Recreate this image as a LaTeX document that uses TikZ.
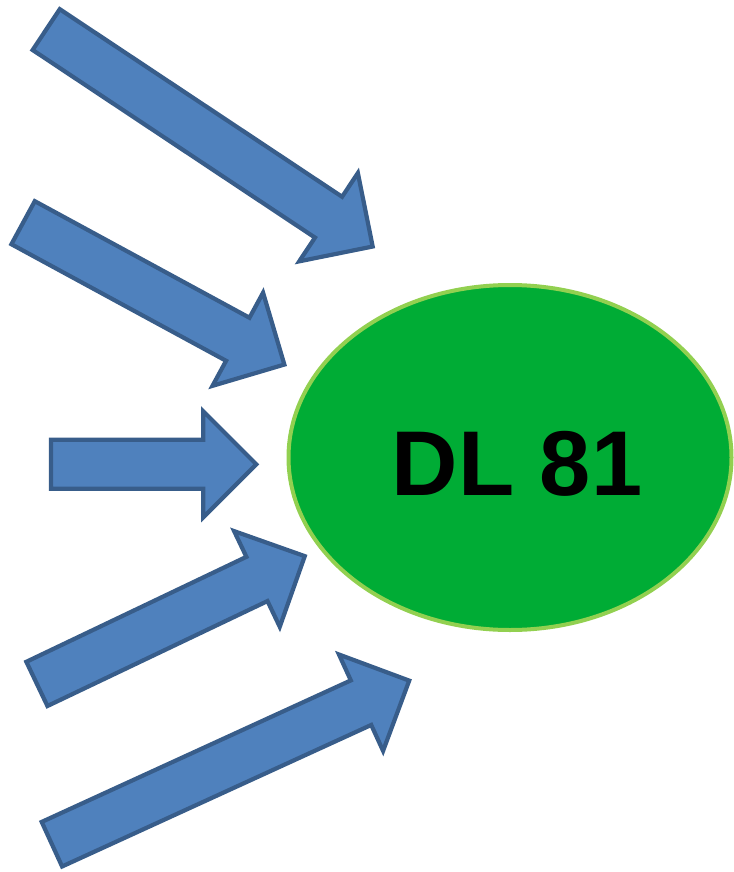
\documentclass[tikz,border=0pt]{standalone}
\usepackage{fontspec}
\setmainfont{Liberation Sans}
\definecolor{arrowfill}{HTML}{4F81BD}
\definecolor{arrowline}{HTML}{385D8A}
\definecolor{ellfill}{HTML}{00AC35}
\definecolor{ellline}{HTML}{92D050}
\tikzset{
  arrowshape/.style={fill=arrowfill, draw=arrowline, line width=4.2pt, line join=miter},
  ellshape/.style={fill=ellfill, draw=ellline, line width=4pt},
  bigtext/.style={font=\bfseries\fontsize{92}{106}\selectfont, anchor=base, inner sep=0pt, text=black},
  pics/blockarrow/.style={code={
    \draw[arrowshape] (0,24.5) -- (#1-53,24.5) -- (#1-53,53) -- (#1,0) -- (#1-53,-53) -- (#1-53,-24.5) -- (0,-24.5) -- cycle;
  }}
}
\begin{document}
\begin{tikzpicture}[x=1pt,y=-1pt]
\useasboundingbox (0,0) rectangle (733,872);
\draw[ellshape] (510,457.5) ellipse [x radius=221.5pt, y radius=172.5pt];
\node[bigtext] (dl) at (517,495) {DL 81};
\pic[rotate=-33.6] (a1) at (46.2,29.6) {blockarrow=392};
\pic[rotate=-28.5] (a2) at (23.1,222.7) {blockarrow=297.3};
\pic (a3) at (51,464.3) {blockarrow=205.3};
\pic[rotate=25.5] (a4) at (36.9,683.9) {blockarrow=296.8};
\pic[rotate=24.6] (a5) at (51.9,844.2) {blockarrow=393};
\end{tikzpicture}
\end{document}
